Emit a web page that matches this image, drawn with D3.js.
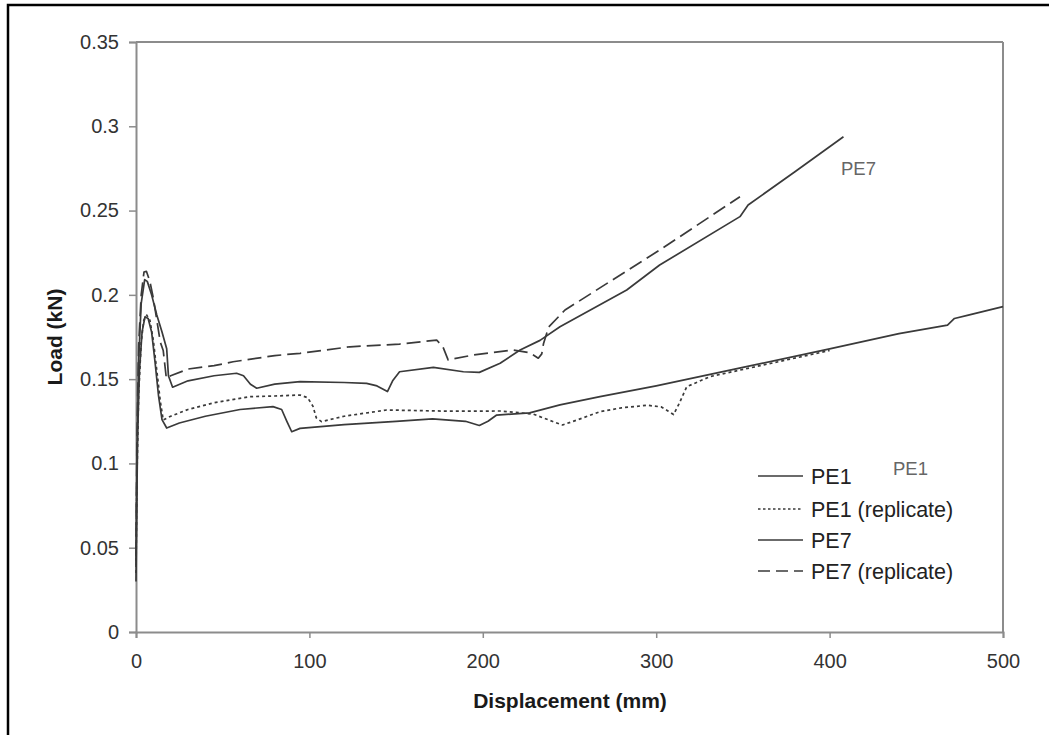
<!DOCTYPE html>
<html>
<head>
<meta charset="utf-8">
<script src="https://cdn.jsdelivr.net/npm/d3@7"></script>
<style>
  html, body { margin: 0; padding: 0; background: #fff; }
  svg { display: block; }
  text { font-family: "Liberation Sans", Arial, sans-serif; }
</style>
</head>
<body>
<svg id="chart" width="1049" height="735"></svg>
<script>
// ---- data (Displacement mm, Load kN) ----
const pe1 = [[0,0.03],[0.5,0.08],[1,0.12],[2,0.155],[3.5,0.178],[5.2,0.187],[7,0.186],[9,0.178],[11,0.16],[13,0.14],[15,0.126],[17.7,0.121],[25,0.124],[40,0.128],[60,0.132],[79,0.1337],[84,0.132],[87,0.125],[89.8,0.1188],[94.6,0.1208],[120,0.123],[150,0.125],[171,0.1264],[190,0.125],[198,0.1225],[203,0.125],[208,0.1287],[227,0.130],[244.5,0.1347],[267.6,0.1396],[300,0.146],[350,0.157],[400,0.168],[440,0.177],[468,0.182],[472,0.186],[480,0.188],[500,0.193]];
const pe1Rep = [[0,0.035],[0.5,0.09],[1.5,0.14],[3,0.172],[4.5,0.185],[6.2,0.188],[8,0.185],[10,0.173],[12,0.155],[14,0.137],[15.7,0.1258],[20,0.128],[30,0.132],[45,0.136],[65.7,0.1396],[80,0.140],[94.6,0.1406],[99,0.139],[102,0.134],[104,0.127],[107,0.1248],[120,0.128],[144.6,0.1317],[180,0.131],[210,0.1311],[229,0.1293],[240,0.125],[246,0.1228],[255,0.126],[267.6,0.1307],[280,0.133],[295,0.1345],[303,0.1335],[307,0.131],[310,0.129],[313,0.135],[317.6,0.1455],[331,0.1515],[360,0.158],[392.5,0.1653],[400,0.167]];
const pe7 = [[0,0.04],[0.5,0.1],[1.5,0.16],[3,0.195],[5,0.209],[6.5,0.208],[9,0.2],[12,0.188],[15,0.178],[17.7,0.168],[18.7,0.152],[21.1,0.1452],[30,0.149],[45,0.152],[58,0.1535],[62,0.152],[66,0.147],[69.6,0.1446],[80,0.147],[94.6,0.1485],[120,0.148],[133,0.1475],[139,0.146],[145,0.1426],[148,0.149],[152,0.1544],[171.5,0.157],[188.8,0.1544],[198,0.154],[210,0.1594],[221.5,0.1673],[233,0.173],[244.5,0.1811],[283,0.2029],[302,0.2177],[348.3,0.2464],[353,0.2533],[380,0.273],[408,0.2938]];
const pe7Rep = [[0,0.045],[0.5,0.11],[1.5,0.17],[3,0.2],[4.6,0.2135],[6,0.214],[8,0.208],[10,0.198],[12,0.185],[14,0.172],[15.7,0.167],[17.5,0.1505],[20,0.152],[30,0.156],[45,0.158],[56,0.1603],[80,0.164],[94.6,0.1653],[123.4,0.1692],[152,0.1708],[173.4,0.1732],[177,0.1692],[180,0.1614],[194.5,0.1643],[217.6,0.1673],[227,0.1657],[232,0.1624],[234,0.165],[235,0.171],[238,0.181],[247.4,0.191],[302,0.2266],[348.3,0.2582]];

const xTicks = [0, 100, 200, 300, 400, 500];
const yTicks = [0, 0.05, 0.1, 0.15, 0.2, 0.25, 0.3, 0.35];
const yTickLabels = ["0", "0.05", "0.1", "0.15", "0.2", "0.25", "0.3", "0.35"];
const seriesNames = ["PE1", "PE1 (replicate)", "PE7", "PE7 (replicate)"];
const seriesData = [pe1, pe1Rep, pe7, pe7Rep];
const seriesDash = [null, "3,3", null, "14,6"];

// ---- layout ----
const svg = d3.select("#chart");
const plotLeft = 136, plotRight = 1003, plotTop = 42, plotBottom = 632;
const x = d3.scaleLinear().domain([0, 500]).range([plotLeft, plotRight]);
const y = d3.scaleLinear().domain([0, 0.35]).range([plotBottom, plotTop]);
const axisColor = "#8c8c8c";
const lineColor = "#3a3a3a";
const fontFam = "'Liberation Sans', Arial, sans-serif";

// outer frame
svg.append("rect").attr("x", 8).attr("y", 5).attr("width", 1100).attr("height", 800)
  .attr("fill", "none").attr("stroke", "#000").attr("stroke-width", 2.5);

// plot box top/right
svg.append("line").attr("x1", plotLeft).attr("x2", plotRight).attr("y1", plotTop).attr("y2", plotTop)
  .attr("stroke", axisColor).attr("stroke-width", 2);
svg.append("line").attr("x1", plotRight).attr("x2", plotRight).attr("y1", plotTop).attr("y2", plotBottom)
  .attr("stroke", axisColor).attr("stroke-width", 2);

// axes
const xAxis = svg.append("g").attr("transform", `translate(0,${plotBottom})`)
  .call(d3.axisBottom(x).tickValues(xTicks).tickSizeOuter(0).tickSize(6).tickPadding(16).tickFormat(d3.format("d")));
const yAxis = svg.append("g").attr("transform", `translate(${plotLeft},0)`)
  .call(d3.axisLeft(y).tickValues(yTicks).tickSizeOuter(0).tickSize(7).tickPadding(10)
    .tickFormat((d, i) => yTickLabels[i]));
[xAxis, yAxis].forEach(g => {
  g.attr("font-size", 20).attr("font-family", fontFam);
  g.select(".domain").attr("stroke", axisColor).attr("stroke-width", 2);
  g.selectAll(".tick line").attr("stroke", axisColor).attr("stroke-width", 1.5);
  g.selectAll(".tick text").attr("fill", "#333").attr("font-size", 20);
});

// axis titles
svg.append("text").attr("x", 570).attr("y", 708).attr("text-anchor", "middle")
  .attr("font-weight", "bold").attr("font-size", 21).attr("fill", "#1a1a1a").text("Displacement (mm)");
svg.append("text").attr("transform", `translate(62,337) rotate(-90)`).attr("text-anchor", "middle")
  .attr("font-weight", "bold").attr("font-size", 21).attr("fill", "#1a1a1a").text("Load (kN)");

// series
const line = d3.line().x(d => x(d[0])).y(d => y(d[1]));
seriesData.forEach((data, i) => {
  svg.append("path").datum(data).attr("d", line).attr("fill", "none")
    .attr("stroke", lineColor).attr("stroke-width", 1.7)
    .attr("stroke-linejoin", "round")
    .attr("stroke-dasharray", seriesDash[i]);
});

// in-plot labels
svg.append("text").attr("x", 841).attr("y", 175).attr("font-size", 18.5).attr("fill", "#666").text("PE7");
svg.append("text").attr("x", 893).attr("y", 475).attr("font-size", 18.5).attr("fill", "#666").text("PE1");

// legend
const legendY = [476, 509, 540, 571];
seriesNames.forEach((name, i) => {
  svg.append("line").attr("x1", 758).attr("x2", 803).attr("y1", legendY[i]).attr("y2", legendY[i])
    .attr("stroke", lineColor).attr("stroke-width", 1.4)
    .attr("stroke-dasharray", i === 1 ? "2.5,2.5" : (i === 3 ? "12,6" : null));
  svg.append("text").attr("x", 811).attr("y", legendY[i]).attr("dy", "0.35em")
    .attr("font-size", 21.5).attr("fill", "#222").text(name);
});
</script>
</body>
</html>
